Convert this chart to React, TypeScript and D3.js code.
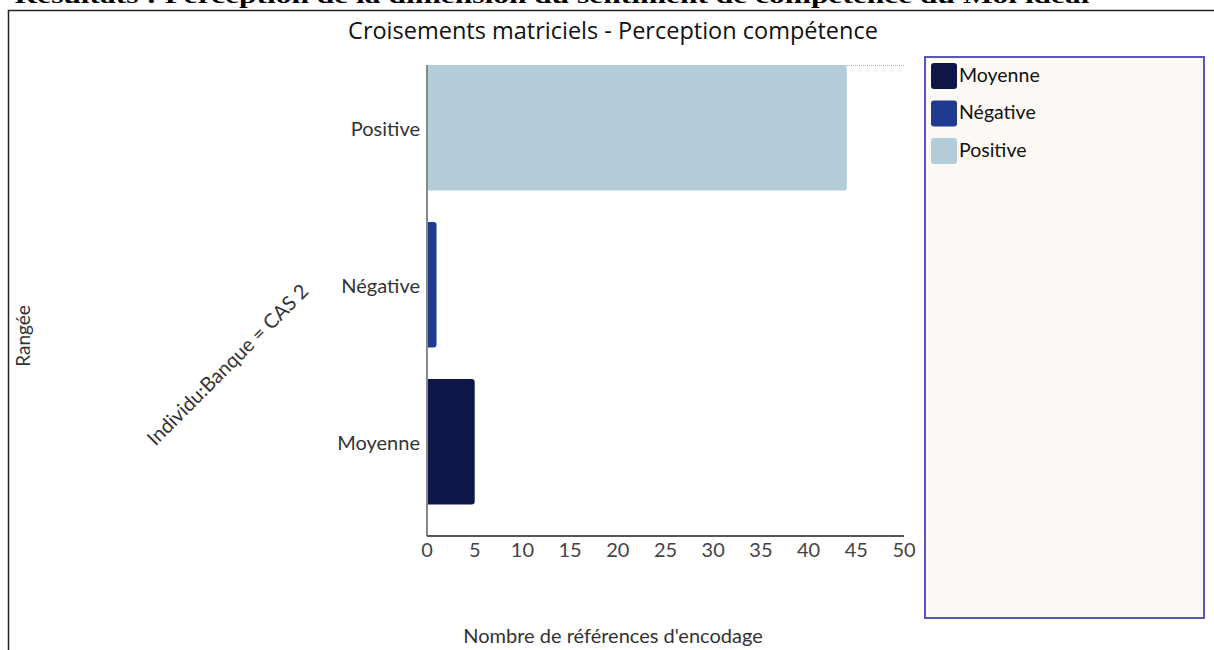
import React from "react";
import * as d3 from "d3";

const categories = ["Positive", "Négative", "Moyenne"];
const values = [44, 1, 5];
const legendItems = ["Moyenne", "Négative", "Positive"];
const colors: Record<string, string> = {
  Moyenne: "#0d1646",
  "Négative": "#203a8f",
  Positive: "#b3cddb",
};
const xTicks = [0, 5, 10, 15, 20, 25, 30, 35, 40, 45, 50];
const pageTitle = "Résultats : Perception de la dimension du sentiment de compétence du Moi idéal";
const chartTitle = "Croisements matriciels - Perception compétence";
const xLabel = "Nombre de références d'encodage";
const yLabel = "Rangée";
const groupLabel = "Individu:Banque = CAS 2";

export default function App() {
  const left = 427, right = 904, top = 65, bottom = 536;
  const x = d3.scaleLinear().domain([0, 50]).range([left, right]);
  const y = d3
    .scaleBand<string>()
    .domain(categories)
    .range([top, bottom])
    .paddingInner(0.2)
    .paddingOuter(0.1)
    .align(0);
  const font = "Lato, 'Open Sans', sans-serif";
  const barPath = (x0: number, x1: number, y0: number, h: number) => {
    const r = Math.min(3, (x1 - x0) / 2);
    return `M${x0},${y0}H${x1 - r}Q${x1},${y0} ${x1},${y0 + r}V${y0 + h - r}Q${x1},${y0 + h} ${x1 - r},${y0 + h}H${x0}Z`;
  };
  return (
    <svg
      width={1214}
      height={650}
      style={{ position: "absolute", left: 0, top: 0, display: "block" }}
    >
      <rect x={0} y={0} width={1214} height={650} fill="#fff" />
      <text
        x={552}
        y={3}
        textAnchor="middle"
        fontFamily="'Liberation Serif', 'Times New Roman', serif"
        fontWeight="bold"
        fontSize={22}
        fill="#000"
        textLength={1075}
        lengthAdjust="spacingAndGlyphs"
      >
        {pageTitle}
      </text>
      <rect x={8.5} y={10.5} width={1300} height={700} fill="none" stroke="#222" strokeWidth={1.5} />
      <text x={613} y={39} textAnchor="middle" fontFamily="'Open Sans', sans-serif" fontSize={23.5} fill="#111">
        {chartTitle}
      </text>
      {/* top dotted grid line */}
      <line x1={left} x2={right} y1={top + 0.5} y2={top + 0.5} stroke="#aaa" strokeWidth={1} strokeDasharray="1,1" />
      {/* bars */}
      {categories.map((c, i) => (
        <path
          key={c}
          d={barPath(x(0), x(values[i]), y(c) as number, y.bandwidth())}
          fill={colors[c]}
        />
      ))}
      {/* axes */}
      <line x1={left} x2={left} y1={top} y2={bottom} stroke="#888" strokeWidth={2} />
      <line x1={left} x2={right} y1={bottom} y2={bottom} stroke="#555" strokeWidth={2} />
      {categories.map((c) => (
        <text
          key={c}
          x={420}
          y={(y(c) as number) + y.bandwidth() / 2 + 3}
          textAnchor="end"
          dominantBaseline="middle"
          fontFamily={font}
          fontSize={20}
          fill="#333"
        >
          {c}
        </text>
      ))}
      {xTicks.map((t) => (
        <text
          key={t}
          x={x(t)}
          y={552}
          textAnchor="middle"
          dominantBaseline="middle"
          fontFamily={font}
          fontSize={20}
          fill="#444"
        >
          {t}
        </text>
      ))}
      <text
        transform="translate(229,366) rotate(-45)"
        textAnchor="middle"
        dominantBaseline="middle"
        fontFamily={font}
        fontSize={20}
        fill="#333"
      >
        {groupLabel}
      </text>
      <text
        transform="translate(25,336) rotate(-90)"
        textAnchor="middle"
        dominantBaseline="middle"
        fontFamily={font}
        fontSize={19}
        fill="#333"
      >
        {yLabel}
      </text>
      <text x={613} y={638} textAnchor="middle" dominantBaseline="middle" fontFamily={font} fontSize={20} fill="#333">
        {xLabel}
      </text>
      {/* legend */}
      <rect x={925} y={57} width={279} height={561} fill="#fdfaf5" stroke="#5757b8" strokeWidth={2} />
      {legendItems.map((c, i) => (
        <g key={c} transform={`translate(931,${63 + i * 37.5})`}>
          <rect width={26} height={26} rx={3} fill={colors[c]} />
          <text x={28} y={14} dominantBaseline="middle" fontFamily={font} fontSize={19.5} fill="#111">
            {c}
          </text>
        </g>
      ))}
    </svg>
  );
}
